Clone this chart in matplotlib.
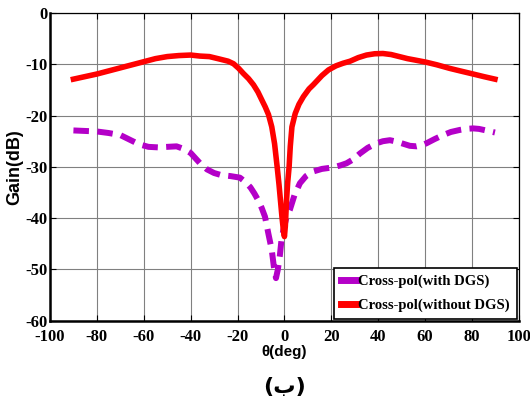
import numpy as np
import matplotlib.pyplot as plt

# angle (deg) and cross-pol gain (dB)
theta_without = [-90, -85, -80, -75, -70, -65, -60, -55, -50, -45, -40, -36, -32, -27.5, -24, -21.7, -19.5,
                 -17.5, -15.3, -13.2, -11.3, -9.6, -8.2, -6.8, -5.4, -4.2, -3.1, -2.3, -1.7, -1.0, -0.4, 0,
                 0.4, 0.9, 1.4, 2.0, 2.5, 3.2, 4.6, 6.2, 8.1, 10.5, 12.3, 16, 18.8, 22, 25, 28, 31.5, 35,
                 38.5, 42, 45.5, 49, 52.5, 56, 60.5, 65, 70.5, 75, 80.5, 85, 89.8]
gain_without = [-12.9, -12.4, -11.9, -11.3, -10.7, -10.1, -9.5, -8.9, -8.5, -8.3, -8.2, -8.4, -8.5, -9.0, -9.4, -9.9, -10.8,
                -11.8, -12.8, -14.0, -15.4, -17.0, -18.3, -19.8, -22.2, -25.5, -30.0, -33.5, -36.5, -40.0, -42.5, -43.6,
                -41.5, -36.5, -33.0, -30.0, -26.0, -22.2, -19.6, -17.8, -16.3, -14.8, -14.0, -12.2, -11.1, -10.3, -9.8, -9.4, -8.7, -8.2,
                -7.95, -7.9, -8.1, -8.5, -8.9, -9.2, -9.6, -10.1, -10.8, -11.3, -11.9, -12.4, -12.9]

theta_with = [-90, -85, -80, -75, -70, -66, -62, -58, -54, -50, -46, -43, -40, -36, -33, -30, -27, -23, -19,
              -16.5, -14.5, -12.8, -11.2, -9.7, -8.3, -6.9, -5.4, -4.5, -3.6, -2.8, -2.0, -1.2, -0.3, 0.8,
              2.3, 4.3, 6.6, 9.2, 12.3, 16, 20.8, 24, 26.5, 29.5, 32.2, 35.5, 39.3, 42, 45, 48, 50.7,
              53.5, 56.4, 58.5, 60.6, 64, 67.7, 71, 74.8, 77.5, 80.5, 83, 86, 89.8]
gain_with = [-22.9, -23.0, -23.1, -23.4, -23.8, -24.7, -25.6, -26.1, -26.2, -26.1, -26.0, -26.5, -27.3, -29.3, -30.5, -31.2, -31.6, -31.8, -32.1,
             -33.0, -34.0, -35.2, -36.5, -38.0, -39.7, -42.9, -46.2, -49.5, -51.7, -50.0, -47.5, -44.0, -42.0, -40.0,
             -38.4, -35.5, -33.2, -31.8, -30.9, -30.4, -30.1, -29.7, -29.3, -28.5, -27.4, -26.3, -25.4, -25.0, -24.8, -25.1, -25.5,
             -25.9, -26.0, -25.8, -25.4, -24.6, -23.8, -23.2, -22.8, -22.6, -22.5, -22.6, -22.9, -23.3]

xticks = np.arange(-100, 101, 20)
yticks = np.arange(-60, 1, 10)

fig = plt.figure(figsize=(5.30, 4.01), dpi=100)
ax = fig.add_axes([0.0943, 0.2002, 0.8847, 0.7674])

ax.plot(theta_with, gain_with, color='#b400c8', linestyle=(0, (2.6, 1.4)), linewidth=4.3,
        label='Cross-pol(with DGS)')
ax.plot(theta_without, gain_without, color='#ff0000', linestyle='solid', linewidth=4.0,
        label='Cross-pol(without DGS)', zorder=3)

ax.set_xlim(-100, 100)
ax.set_ylim(-60, 0)
ax.set_xticks(xticks)
ax.set_yticks(yticks)
ax.grid(True, color='#808080', linewidth=0.8)

tfont = {'family': 'Liberation Serif', 'weight': 'bold', 'size': 12}
ax.set_xticklabels([str(v) for v in xticks], fontdict=tfont)
ax.set_yticklabels([str(v) for v in yticks], fontdict=tfont)
ax.tick_params(direction='in', top=True, right=True, length=4)
ax.tick_params(axis='x', pad=6)
ax.tick_params(axis='y', pad=2)

for s in ['left', 'bottom']:
    ax.spines[s].set_linewidth(1.8)
for s in ['top', 'right']:
    ax.spines[s].set_linewidth(0.9)

ax.set_xlabel('θ(deg)', fontsize=11, fontweight='bold', family='Liberation Sans', labelpad=0)
ax.set_ylabel('Gain(dB)', fontsize=13, fontweight='bold', family='Liberation Sans', labelpad=1)

fig.text(0.536, 0.035, '(ب)', ha='center', va='center', fontsize=16, fontweight='bold',
         family=['DejaVu Sans'])

leg = ax.legend(loc='lower right', prop={'family': 'Liberation Serif', 'weight': 'bold', 'size': 10.5},
                handlelength=1.0, handletextpad=0.2, borderpad=0.45, labelspacing=0.7,
                fancybox=False, framealpha=1, edgecolor='black', borderaxespad=0.15)
leg.get_frame().set_linewidth(1.2)
for line in leg.get_lines():
    line.set_linestyle('solid')
    line.set_linewidth(5)

fig.savefig('out.png', dpi=100)
